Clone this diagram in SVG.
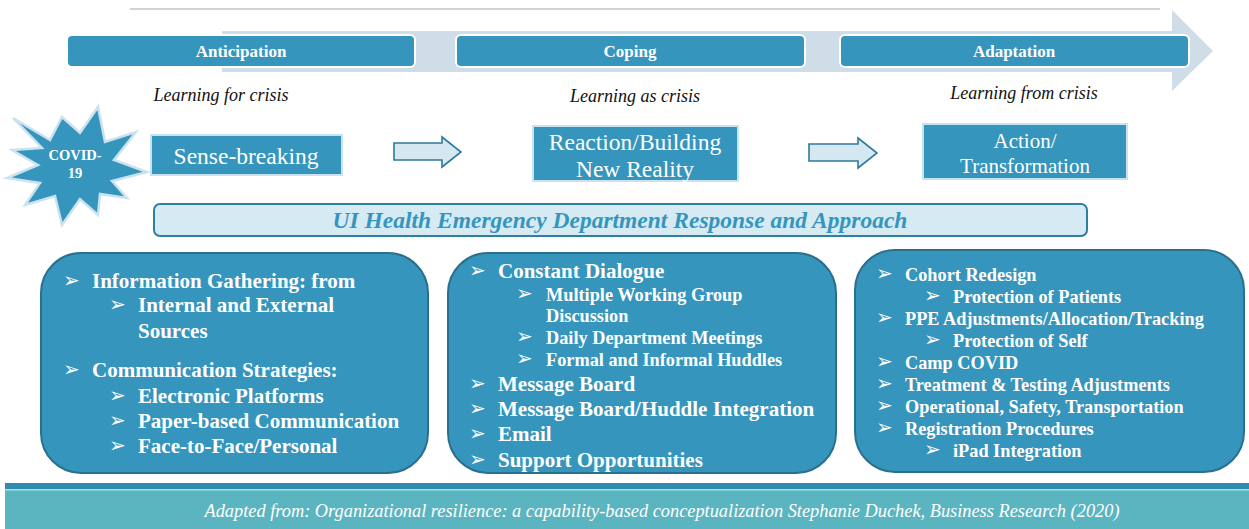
<svg xmlns="http://www.w3.org/2000/svg" width="1249" height="529" viewBox="0 0 1249 529">
  <style>
    text { font-family: "Liberation Serif", "Times New Roman", Tinos, "DejaVu Serif", serif; }
    .phase { fill: #3595bd; stroke: #ffffff; stroke-width: 2; }
    .phase-t { font-weight: bold; font-size: 17px; fill: #ffffff; text-anchor: middle; }
    .learn { font-style: italic; font-size: 18px; fill: #111111; text-anchor: middle; }
    .stage { fill: #3595bd; stroke: #c9e2ef; stroke-width: 2; }
    .stage-t { font-size: 23.5px; fill: #ffffff; text-anchor: middle; }
    .blk { fill: #d5e8f2; stroke: #2d7a9c; stroke-width: 1.6; }
    .panel { fill: #3595bd; stroke: #2a6f8c; stroke-width: 2; }
    .b19 { font-weight: bold; font-size: 21px; fill: #ffffff; }
    .b16 { font-weight: bold; font-size: 18.3px; fill: #ffffff; }
    .bul { font-family: "DejaVu Sans", sans-serif; font-size: 20px; fill: #ffffff; }
  </style>

  <!-- top rule and timeline arrow -->
  <line x1="130" y1="9" x2="1160" y2="9" stroke="#a6a6a6" stroke-width="1.2"/>
  <polygon points="222,31 1172,31 1172,10 1213,51 1172,91 1172,72 222,72" fill="#cfdde8"/>

  <g id="phase-anticipation">
    <rect class="phase" x="67" y="35" width="348" height="32" rx="5"/>
    <text class="phase-t" x="241" y="57">Anticipation</text>
    <text class="learn" x="221" y="101">Learning for crisis</text>
  </g>
  <g id="phase-coping">
    <rect class="phase" x="456" y="35" width="349" height="32" rx="5"/>
    <text class="phase-t" x="630" y="57">Coping</text>
    <text class="learn" x="635" y="102">Learning as crisis</text>
  </g>
  <g id="phase-adaptation">
    <rect class="phase" x="840" y="35" width="349" height="32" rx="5"/>
    <text class="phase-t" x="1014" y="57">Adaptation</text>
    <text class="learn" x="1024" y="99">Learning from crisis</text>
  </g>

  <g id="covid-star">
    <polygon points="13,118 50,140 62,117 80,133 98,107 105,142 136,132 114,160 147,172 112,181 127,198 100,194 98,215 80,199 62,225 55,196 25,205 40,183 7,178 38,165 12,150 42,148"
             fill="#3595bd" stroke="#c9e2ef" stroke-width="2.5" stroke-linejoin="miter"/>
    <text x="75" y="160" font-weight="bold" font-size="14.5" fill="#ffffff" text-anchor="middle">COVID-</text>
    <text x="75" y="178" font-weight="bold" font-size="14.5" fill="#ffffff" text-anchor="middle">19</text>
  </g>

  <g id="stage-sense-breaking">
    <rect class="stage" x="151" y="135" width="191" height="40"/>
    <text class="stage-t" x="246" y="164">Sense-breaking</text>
  </g>
  <g id="stage-reaction">
    <rect class="stage" x="533" y="126" width="205" height="55"/>
    <text class="stage-t" x="635" y="150">Reaction/Building</text>
    <text class="stage-t" x="635" y="177">New Reality</text>
  </g>
  <g id="stage-action">
    <rect class="stage" x="923" y="124" width="204" height="55"/>
    <text class="stage-t" x="1025" y="148" style="font-size:21px">Action/</text>
    <text class="stage-t" x="1025" y="173" style="font-size:21px">Transformation</text>
  </g>

  <g id="connectors">
    <polygon class="blk" points="394,143 442,143 442,137 461,152 442,167 442,160 394,160"/>
    <polygon class="blk" points="809,144 858,144 858,138 877,153 858,168 858,161 809,161"/>
  </g>

  <g id="banner">
    <rect x="154" y="204" width="933" height="32" rx="6" fill="#d6eaf4" stroke="#2e7fa0" stroke-width="2"/>
    <text x="620" y="228" font-weight="bold" font-style="italic" font-size="23.5" fill="#3596bd" text-anchor="middle">UI Health Emergency Department Response and Approach</text>
  </g>

  <g id="panel-anticipation">
    <rect class="panel" x="41" y="253" width="387" height="220" rx="40"/>
    <text class="bul" x="63" y="287">➢</text><text class="b19" x="92" y="288">Information Gathering: from</text>
    <text class="bul" x="109" y="311">➢</text><text class="b19" x="138" y="312">Internal and External</text>
    <text class="b19" x="138" y="338">Sources</text>
    <text class="bul" x="63" y="376">➢</text><text class="b19" x="92" y="377">Communication Strategies:</text>
    <text class="bul" x="109" y="402">➢</text><text class="b19" x="138" y="403">Electronic Platforms</text>
    <text class="bul" x="109" y="427">➢</text><text class="b19" x="138" y="428">Paper-based Communication</text>
    <text class="bul" x="109" y="452">➢</text><text class="b19" x="138" y="453">Face-to-Face/Personal</text>
  </g>

  <g id="panel-coping">
    <rect class="panel" x="448" y="253" width="388" height="220" rx="40"/>
    <text class="bul" x="469" y="277">➢</text><text class="b19" x="498" y="278">Constant Dialogue</text>
    <text class="bul" x="516" y="300">➢</text><text class="b16" x="546" y="301">Multiple Working Group</text>
    <text class="b16" x="546" y="322">Discussion</text>
    <text class="bul" x="516" y="343">➢</text><text class="b16" x="546" y="344">Daily Department Meetings</text>
    <text class="bul" x="516" y="365">➢</text><text class="b16" x="546" y="366">Formal and Informal Huddles</text>
    <text class="bul" x="469" y="390">➢</text><text class="b19" x="498" y="391">Message Board</text>
    <text class="bul" x="469" y="415">➢</text><text class="b19" x="498" y="416">Message Board/Huddle Integration</text>
    <text class="bul" x="469" y="440">➢</text><text class="b19" x="498" y="441">Email</text>
    <text class="bul" x="469" y="466">➢</text><text class="b19" x="498" y="467">Support Opportunities</text>
  </g>

  <g id="panel-adaptation">
    <rect class="panel" x="855" y="250" width="389" height="222" rx="40"/>
    <text class="bul" x="876" y="280">➢</text><text class="b16" x="905" y="281">Cohort Redesign</text>
    <text class="bul" x="924" y="302">➢</text><text class="b16" x="953" y="303">Protection of Patients</text>
    <text class="bul" x="876" y="324">➢</text><text class="b16" x="905" y="325">PPE Adjustments/Allocation/Tracking</text>
    <text class="bul" x="924" y="346">➢</text><text class="b16" x="953" y="347">Protection of Self</text>
    <text class="bul" x="876" y="368">➢</text><text class="b16" x="905" y="369">Camp COVID</text>
    <text class="bul" x="876" y="390">➢</text><text class="b16" x="905" y="391">Treatment &amp; Testing Adjustments</text>
    <text class="bul" x="876" y="412">➢</text><text class="b16" x="905" y="413">Operational, Safety, Transportation</text>
    <text class="bul" x="876" y="434">➢</text><text class="b16" x="905" y="435">Registration Procedures</text>
    <text class="bul" x="924" y="456">➢</text><text class="b16" x="953" y="457">iPad Integration</text>
  </g>

  <g id="footer">
    <rect x="5" y="483" width="1244" height="46" fill="#5ab5c0"/>
    <rect x="5" y="483" width="1244" height="6" fill="#2f8bb2"/>
    <rect x="5" y="489" width="1244" height="1.5" fill="#a9dce3"/>
    <text x="662" y="517" font-style="italic" font-size="18" fill="#ffffff" text-anchor="middle" textLength="915" lengthAdjust="spacingAndGlyphs">Adapted from: Organizational resilience: a capability-based conceptualization Stephanie Duchek, Business Research (2020)</text>
  </g>
</svg>
